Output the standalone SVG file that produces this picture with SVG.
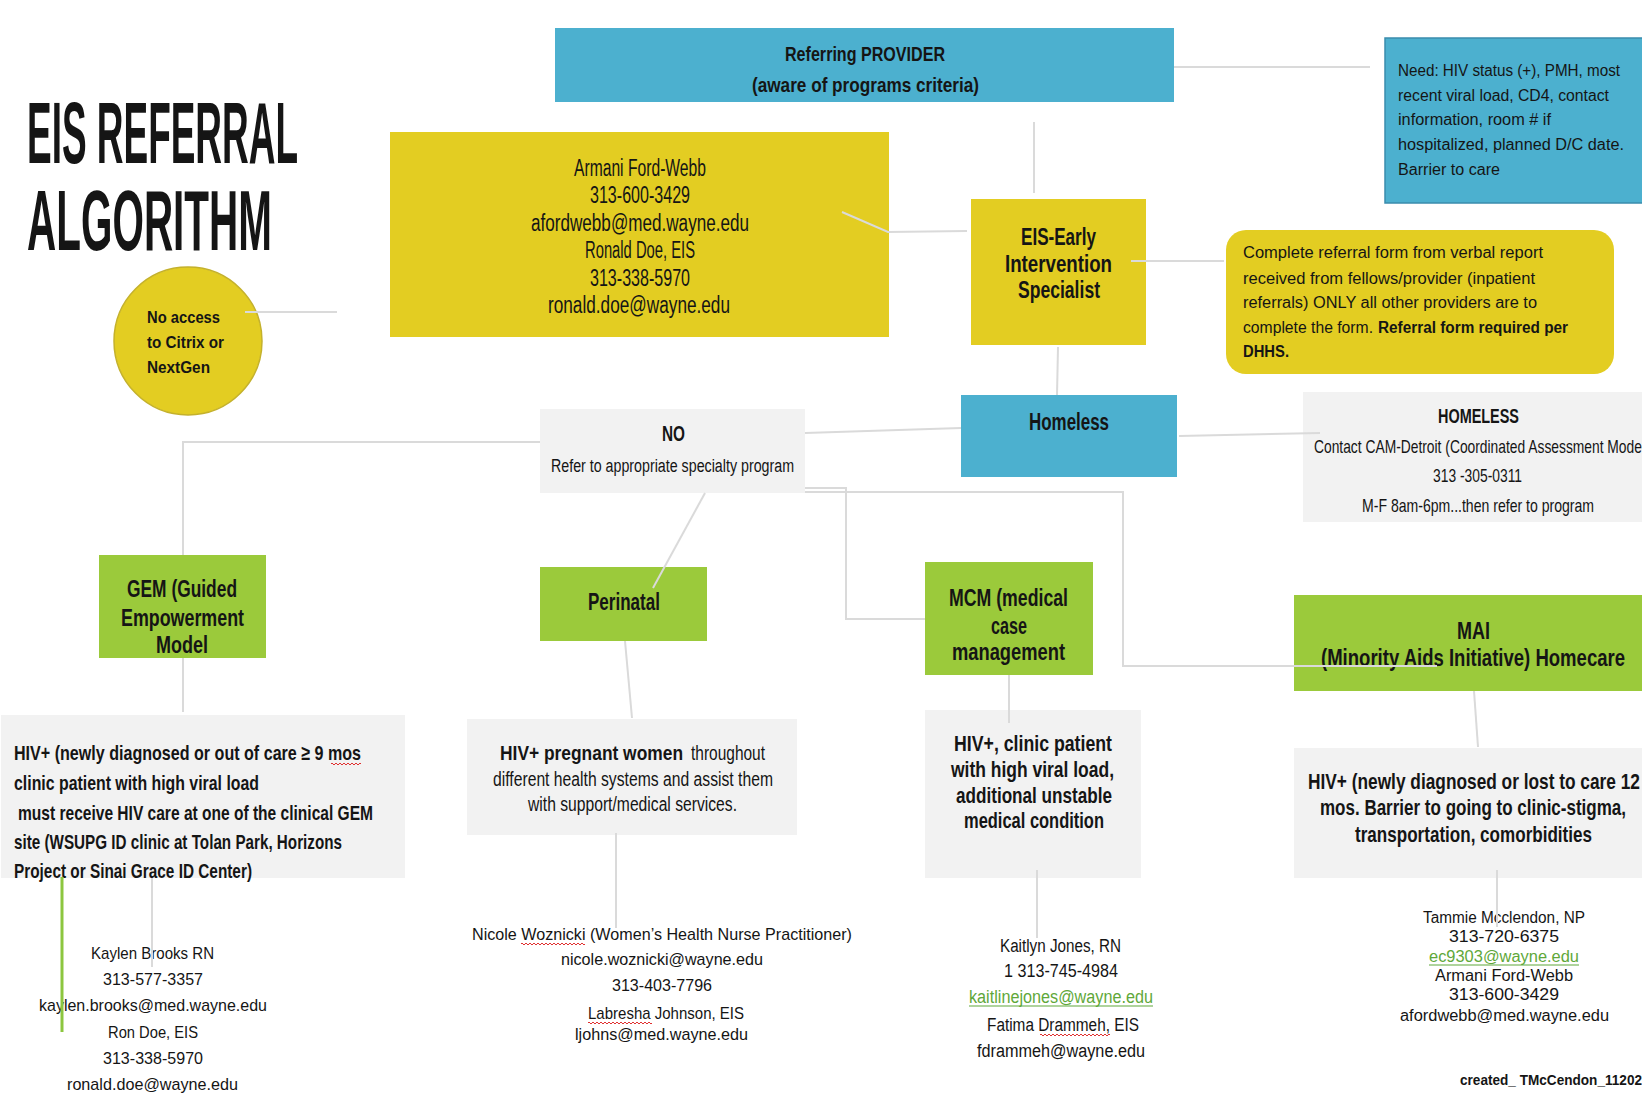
<svg xmlns="http://www.w3.org/2000/svg" width="1642" height="1102" viewBox="0 0 1642 1102">
<style>
text { font-family: "Liberation Sans", Arial, sans-serif; fill: #151515; }
.b { font-weight: bold; }
.blue { fill: #4cb0cf; }
.yellow { fill: #e3cd22; }
.green { fill: #9bca3b; }
.gray { fill: #f2f2f2; }
.ln { stroke: #dadada; stroke-width: 2; fill: none; }
.wave { stroke: #e03030; stroke-width: 1; fill: none; }
.link { fill: #5fa83a; }
.ul { stroke: #5fa83a; stroke-width: 1.2; }
</style>
<rect width="1642" height="1102" fill="#ffffff"/>

<g id="title">
<text x="27" y="163" font-size="88" font-weight="bold" textLength="271" lengthAdjust="spacingAndGlyphs">EIS REFERRAL</text>
<text x="27" y="250" font-size="85" font-weight="bold" textLength="245" lengthAdjust="spacingAndGlyphs">ALGORITHM</text>
</g>

<g id="no-access">
<circle cx="188" cy="341" r="74" class="yellow" stroke="#c4b12c" stroke-width="1.5"/>
<text class="b" x="147" y="323" font-size="17" textLength="73" lengthAdjust="spacingAndGlyphs">No access</text>
<text class="b" x="147" y="348" font-size="17" textLength="77" lengthAdjust="spacingAndGlyphs">to Citrix or</text>
<text class="b" x="147" y="373" font-size="17" textLength="63" lengthAdjust="spacingAndGlyphs">NextGen</text>
</g>

<g id="referring-provider">
<rect x="555" y="28" width="619" height="74" class="blue"/>
<text class="b" x="785" y="61" font-size="21" textLength="160" lengthAdjust="spacingAndGlyphs">Referring PROVIDER</text>
<text class="b" x="752" y="92" font-size="21" textLength="227" lengthAdjust="spacingAndGlyphs">(aware of programs criteria)</text>
</g>

<g id="need">
<rect x="1385" y="38" width="266" height="165" class="blue" stroke="#3a8cad" stroke-width="1.5"/>
<text x="1398" y="76" font-size="16" textLength="222" lengthAdjust="spacingAndGlyphs">Need: HIV status (+), PMH, most</text>
<text x="1398" y="101" font-size="16" textLength="211" lengthAdjust="spacingAndGlyphs">recent viral load, CD4, contact</text>
<text x="1398" y="125" font-size="16" textLength="153" lengthAdjust="spacingAndGlyphs">information, room # if</text>
<text x="1398" y="150" font-size="16" textLength="226" lengthAdjust="spacingAndGlyphs">hospitalized, planned D/C date.</text>
<text x="1398" y="175" font-size="16" textLength="102" lengthAdjust="spacingAndGlyphs">Barrier to care</text>
</g>

<g id="eis-contacts">
<rect x="390" y="132" width="499" height="205" class="yellow"/>
<text x="574" y="176" font-size="23" textLength="132" lengthAdjust="spacingAndGlyphs">Armani Ford-Webb</text>
<text x="590" y="203" font-size="23" textLength="100" lengthAdjust="spacingAndGlyphs">313-600-3429</text>
<text x="531" y="231" font-size="23" textLength="218" lengthAdjust="spacingAndGlyphs">afordwebb@med.wayne.edu</text>
<text x="585" y="258" font-size="23" textLength="110" lengthAdjust="spacingAndGlyphs">Ronald Doe, EIS</text>
<text x="590" y="286" font-size="23" textLength="100" lengthAdjust="spacingAndGlyphs">313-338-5970</text>
<text x="548" y="313" font-size="23" textLength="182" lengthAdjust="spacingAndGlyphs">ronald.doe@wayne.edu</text>
</g>

<g id="eis">
<rect x="971" y="199" width="175" height="146" class="yellow"/>
<text class="b" x="1021" y="245" font-size="24" textLength="75" lengthAdjust="spacingAndGlyphs">EIS-Early</text>
<text class="b" x="1005" y="272" font-size="24" textLength="107" lengthAdjust="spacingAndGlyphs">Intervention</text>
<text class="b" x="1018" y="298" font-size="24" textLength="82" lengthAdjust="spacingAndGlyphs">Specialist</text>
</g>

<g id="complete-form">
<rect x="1226" y="230" width="388" height="144" rx="20" class="yellow"/>
<text x="1243" y="258" font-size="16" textLength="300" lengthAdjust="spacingAndGlyphs">Complete referral form from verbal report</text>
<text x="1243" y="284" font-size="16" textLength="292" lengthAdjust="spacingAndGlyphs">received from fellows/provider (inpatient</text>
<text x="1243" y="308" font-size="16" textLength="294" lengthAdjust="spacingAndGlyphs">referrals) ONLY all other providers are to</text>
<text x="1243" y="333" font-size="16" textLength="130" lengthAdjust="spacingAndGlyphs">complete the form.</text>
<text class="b" x="1378" y="333" font-size="16" textLength="190" lengthAdjust="spacingAndGlyphs">Referral form required per</text>
<text class="b" x="1243" y="357" font-size="16" textLength="46" lengthAdjust="spacingAndGlyphs">DHHS.</text>
</g>

<g id="no">
<rect x="540" y="409" width="265" height="84" class="gray"/>
<text class="b" x="662" y="441" font-size="22" textLength="23" lengthAdjust="spacingAndGlyphs">NO</text>
<text x="551" y="472" font-size="18" textLength="243" lengthAdjust="spacingAndGlyphs">Refer to appropriate specialty program</text>
</g>

<g id="homeless">
<rect x="961" y="395" width="216" height="82" class="blue"/>
<text class="b" x="1029" y="430" font-size="23" textLength="80" lengthAdjust="spacingAndGlyphs">Homeless</text>
</g>

<g id="homeless-info">
<rect x="1303" y="392" width="345" height="130" class="gray"/>
<text class="b" x="1438" y="423" font-size="20" textLength="81" lengthAdjust="spacingAndGlyphs">HOMELESS</text>
<text x="1314" y="453" font-size="19" textLength="331" lengthAdjust="spacingAndGlyphs">Contact CAM-Detroit (Coordinated Assessment Model</text>
<text x="1433" y="482" font-size="19" textLength="89" lengthAdjust="spacingAndGlyphs">313 -305-0311</text>
<text x="1362" y="512" font-size="19" textLength="232" lengthAdjust="spacingAndGlyphs">M-F 8am-6pm...then refer to program</text>
</g>

<g id="gem">
<rect x="99" y="555" width="167" height="103" class="green"/>
<text class="b" x="127" y="597" font-size="24" textLength="110" lengthAdjust="spacingAndGlyphs">GEM (Guided</text>
<text class="b" x="121" y="626" font-size="24" textLength="123" lengthAdjust="spacingAndGlyphs">Empowerment</text>
<text class="b" x="156" y="653" font-size="24" textLength="52" lengthAdjust="spacingAndGlyphs">Model</text>
</g>

<g id="perinatal">
<rect x="540" y="567" width="167" height="74" class="green"/>
<text class="b" x="588" y="610" font-size="24" textLength="72" lengthAdjust="spacingAndGlyphs">Perinatal</text>
</g>

<g id="mcm">
<rect x="925" y="562" width="168" height="113" class="green"/>
<text class="b" x="949" y="606" font-size="24" textLength="119" lengthAdjust="spacingAndGlyphs">MCM (medical</text>
<text class="b" x="991" y="634" font-size="24" textLength="36" lengthAdjust="spacingAndGlyphs">case</text>
<text class="b" x="952" y="660" font-size="24" textLength="113" lengthAdjust="spacingAndGlyphs">management</text>
</g>

<g id="mai">
<rect x="1294" y="595" width="350" height="96" class="green"/>
<text class="b" x="1457" y="639" font-size="24" textLength="33" lengthAdjust="spacingAndGlyphs">MAI</text>
<text class="b" x="1321" y="666" font-size="23" textLength="304" lengthAdjust="spacingAndGlyphs">(Minority Aids Initiative) Homecare</text>
</g>

<g id="gem-criteria">
<rect x="1" y="715" width="404" height="163" class="gray"/>
<text class="b" x="14" y="760" font-size="21" textLength="347" lengthAdjust="spacingAndGlyphs">HIV+ (newly diagnosed or out of care ≥ 9 mos</text>
<path class="wave" d="M331,764 q1,-2 2,0 t2,0 t2,0 t2,0 t2,0 t2,0 t2,0 t2,0 t2,0 t2,0 t2,0 t2,0 t2,0 t2,0 t2,0"/>
<text class="b" x="14" y="790" font-size="21" textLength="245" lengthAdjust="spacingAndGlyphs">clinic patient with high viral load</text>
<text class="b" x="18" y="820" font-size="21" textLength="355" lengthAdjust="spacingAndGlyphs">must receive HIV care at one of the clinical GEM</text>
<text class="b" x="14" y="849" font-size="21" textLength="328" lengthAdjust="spacingAndGlyphs">site (WSUPG ID clinic at Tolan Park, Horizons</text>
<text class="b" x="14" y="878" font-size="21" textLength="238" lengthAdjust="spacingAndGlyphs">Project or Sinai Grace ID Center)</text>
</g>

<g id="perinatal-criteria">
<rect x="467" y="719" width="330" height="116" class="gray"/>
<text class="b" x="500" y="760" font-size="20" textLength="183" lengthAdjust="spacingAndGlyphs">HIV+ pregnant women</text>
<text x="691" y="760" font-size="20" textLength="74" lengthAdjust="spacingAndGlyphs">throughout</text>
<text x="493" y="786" font-size="20" textLength="280" lengthAdjust="spacingAndGlyphs">different health systems and assist them</text>
<text x="528" y="811" font-size="20" textLength="209" lengthAdjust="spacingAndGlyphs">with support/medical services.</text>
</g>

<g id="mcm-criteria">
<rect x="925" y="710" width="216" height="168" class="gray"/>
<text class="b" x="954" y="751" font-size="22" textLength="158" lengthAdjust="spacingAndGlyphs">HIV+, clinic patient</text>
<text class="b" x="951" y="777" font-size="22" textLength="163" lengthAdjust="spacingAndGlyphs">with high viral load,</text>
<text class="b" x="956" y="803" font-size="22" textLength="156" lengthAdjust="spacingAndGlyphs">additional unstable</text>
<text class="b" x="964" y="828" font-size="22" textLength="140" lengthAdjust="spacingAndGlyphs">medical condition</text>
</g>

<g id="mai-criteria">
<rect x="1294" y="748" width="350" height="130" class="gray"/>
<text class="b" x="1308" y="789" font-size="22" textLength="332" lengthAdjust="spacingAndGlyphs">HIV+ (newly diagnosed or lost to care 12</text>
<text class="b" x="1320" y="815" font-size="22" textLength="306" lengthAdjust="spacingAndGlyphs">mos.  Barrier to going to clinic-stigma,</text>
<text class="b" x="1355" y="842" font-size="22" textLength="237" lengthAdjust="spacingAndGlyphs">transportation, comorbidities</text>
</g>

<g id="gem-contacts">
<text x="91" y="959" font-size="17" textLength="123" lengthAdjust="spacingAndGlyphs">Kaylen Brooks RN</text>
<text x="103" y="985" font-size="17" textLength="100" lengthAdjust="spacingAndGlyphs">313-577-3357</text>
<text x="39" y="1011" font-size="17" textLength="228" lengthAdjust="spacingAndGlyphs">kaylen.brooks@med.wayne.edu</text>
<text x="108" y="1038" font-size="17" textLength="90" lengthAdjust="spacingAndGlyphs">Ron Doe, EIS</text>
<text x="103" y="1064" font-size="17" textLength="100" lengthAdjust="spacingAndGlyphs">313-338-5970</text>
<text x="67" y="1090" font-size="17" textLength="171" lengthAdjust="spacingAndGlyphs">ronald.doe@wayne.edu</text>
</g>

<g id="perinatal-contacts">
<text x="472" y="940" font-size="17" textLength="380" lengthAdjust="spacingAndGlyphs">Nicole Woznicki (Women’s Health Nurse Practitioner)</text>
<path class="wave" d="M521,944 q1,-2 2,0 t2,0 t2,0 t2,0 t2,0 t2,0 t2,0 t2,0 t2,0 t2,0 t2,0 t2,0 t2,0 t2,0 t2,0 t2,0 t2,0 t2,0 t2,0 t2,0 t2,0 t2,0 t2,0 t2,0 t2,0 t2,0 t2,0 t2,0 t2,0 t2,0 t2,0 t2,0"/>
<text x="561" y="965" font-size="17" textLength="202" lengthAdjust="spacingAndGlyphs">nicole.woznicki@wayne.edu</text>
<text x="612" y="991" font-size="17" textLength="100" lengthAdjust="spacingAndGlyphs">313-403-7796</text>
<text x="588" y="1019" font-size="17" textLength="156" lengthAdjust="spacingAndGlyphs">Labresha Johnson, EIS</text>
<path class="wave" d="M588,1023 q1,-2 2,0 t2,0 t2,0 t2,0 t2,0 t2,0 t2,0 t2,0 t2,0 t2,0 t2,0 t2,0 t2,0 t2,0 t2,0 t2,0 t2,0 t2,0 t2,0 t2,0 t2,0 t2,0 t2,0 t2,0 t2,0 t2,0 t2,0 t2,0 t2,0 t2,0 t2,0 t2,0"/>
<text x="575" y="1040" font-size="17" textLength="173" lengthAdjust="spacingAndGlyphs">ljohns@med.wayne.edu</text>
</g>

<g id="mcm-contacts">
<text x="1000" y="952" font-size="18" textLength="121" lengthAdjust="spacingAndGlyphs">Kaitlyn Jones, RN</text>
<text x="1004" y="977" font-size="18" textLength="114" lengthAdjust="spacingAndGlyphs">1 313-745-4984</text>
<text class="link" x="969" y="1003" font-size="18" textLength="184" lengthAdjust="spacingAndGlyphs">kaitlinejones@wayne.edu</text>
<line class="ul" x1="969" y1="1006" x2="1153" y2="1006"/>
<text x="987" y="1031" font-size="18" textLength="152" lengthAdjust="spacingAndGlyphs">Fatima Drammeh, EIS</text>
<path class="wave" d="M1040,1035 q1,-2 2,0 t2,0 t2,0 t2,0 t2,0 t2,0 t2,0 t2,0 t2,0 t2,0 t2,0 t2,0 t2,0 t2,0 t2,0 t2,0 t2,0 t2,0 t2,0 t2,0 t2,0 t2,0 t2,0 t2,0 t2,0 t2,0 t2,0 t2,0 t2,0 t2,0 t2,0 t2,0 t2,0 t2,0 t2,0"/>
<text x="977" y="1057" font-size="18" textLength="168" lengthAdjust="spacingAndGlyphs">fdrammeh@wayne.edu</text>
</g>

<g id="mai-contacts">
<text x="1423" y="923" font-size="16" textLength="162" lengthAdjust="spacingAndGlyphs">Tammie Mcclendon, NP</text>
<text x="1449" y="942" font-size="16" textLength="110" lengthAdjust="spacingAndGlyphs">313-720-6375</text>
<text class="link" x="1429" y="962" font-size="16" textLength="150" lengthAdjust="spacingAndGlyphs">ec9303@wayne.edu</text>
<line class="ul" x1="1429" y1="965" x2="1579" y2="965"/>
<text x="1435" y="981" font-size="16" textLength="138" lengthAdjust="spacingAndGlyphs">Armani Ford-Webb</text>
<text x="1449" y="1000" font-size="16" textLength="110" lengthAdjust="spacingAndGlyphs">313-600-3429</text>
<text x="1400" y="1021" font-size="16" textLength="209" lengthAdjust="spacingAndGlyphs">afordwebb@med.wayne.edu</text>
</g>

<g id="credit">
<text class="b" x="1460" y="1085" font-size="15" textLength="182" lengthAdjust="spacingAndGlyphs">created_ TMcCendon_11202</text>
</g>

<g id="connectors">
<line class="ln" x1="1174" y1="67" x2="1370" y2="67"/>
<line class="ln" x1="1034" y1="122" x2="1034" y2="193"/>
<polyline class="ln" points="842,212 888,232 967,231" stroke="#ececec"/>
<line class="ln" x1="1131" y1="261" x2="1224" y2="261"/>
<line class="ln" x1="1058" y1="347" x2="1057" y2="395"/>
<line class="ln" x1="245" y1="312" x2="337" y2="312"/>
<line class="ln" x1="805" y1="433" x2="961" y2="428"/>
<line class="ln" x1="1179" y1="436" x2="1320" y2="433"/>
<polyline class="ln" points="540,442 183,442 183,555"/>
<line class="ln" x1="183" y1="658" x2="183" y2="712"/>
<line class="ln" x1="152" y1="878" x2="152" y2="967"/>
<line x1="62" y1="877" x2="62" y2="1032" stroke="#8cc63f" stroke-width="3"/>
<line class="ln" x1="705" y1="493" x2="653" y2="588"/>
<line class="ln" x1="625" y1="641" x2="632" y2="718"/>
<line class="ln" x1="616" y1="833" x2="616" y2="928"/>
<polyline class="ln" points="805,488 846,488 846,619 925,619"/>
<polyline class="ln" points="805,492 1123,492 1123,666 1437,666"/>
<line class="ln" x1="1009" y1="675" x2="1009" y2="723"/>
<line class="ln" x1="1037" y1="870" x2="1037" y2="938"/>
<line class="ln" x1="1474" y1="691" x2="1478" y2="747"/>
<line class="ln" x1="1497" y1="870" x2="1497" y2="927"/>
</g>
</svg>
